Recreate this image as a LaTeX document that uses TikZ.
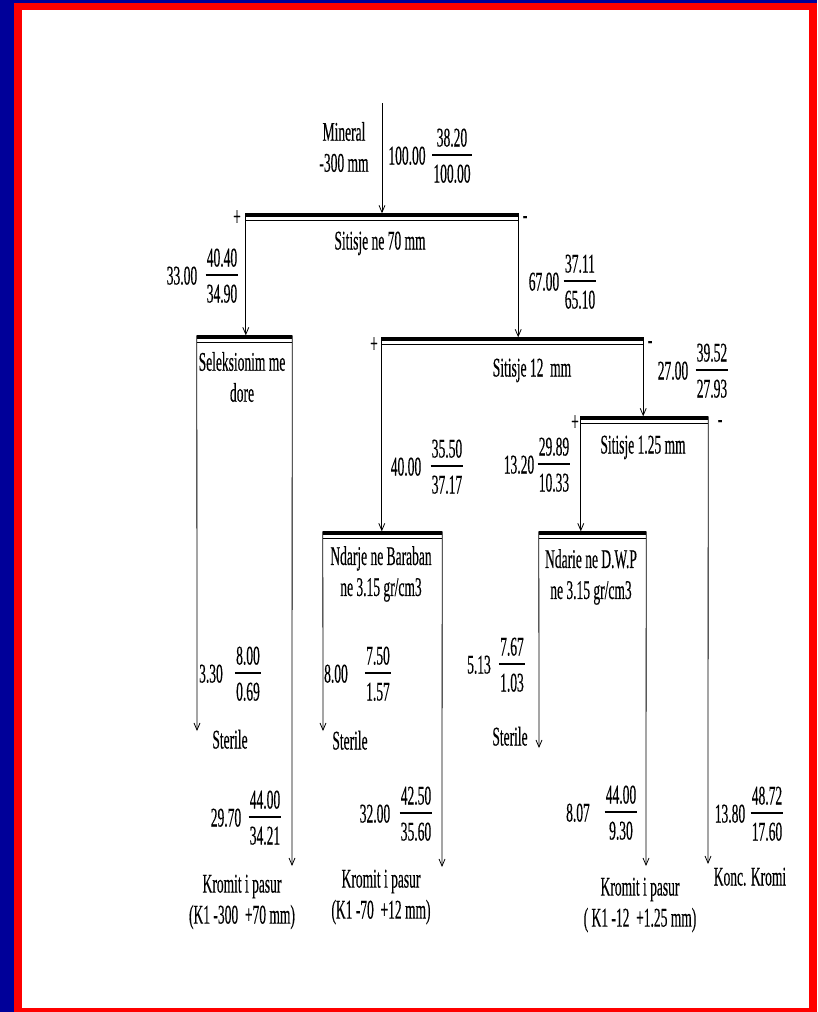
\documentclass[tikz,border=0pt]{standalone}
\usepackage{fontspec}
\setmainfont{Liberation Serif}[FakeStretch=0.5,FakeBold=0.3]
\usetikzlibrary{arrows.meta,calc}
\definecolor{frameblue}{RGB}{0,0,153}
\definecolor{framered}{RGB}{255,0,0}
\newcommand\procbars[1]{%
  \draw[thickbar] ([yshift=-1.6pt]#1.north west) -- ([yshift=-1.6pt]#1.north east);
  \draw[thinbar] ([yshift=0.5pt]#1.south west) -- ([yshift=0.5pt]#1.south east);}
\newcommand\fracval[7]{%
  \node[txt] (#1-a) at (#2,#4+3) {#5};
  \node[txt] (#1-n) at (#3,#4-15) {#6};
  \node[txt] (#1-d) at (#3,#4+21) {#7};
  \draw[fracbar] let \p1=(#1-n.west), \p2=(#1-d.west), \p3=(#1-n.east), \p4=(#1-d.east) in
    ({min(\x1,\x2)-1pt},#4) -- ({max(\x3,\x4)+1pt},#4);}
\begin{document}
\begin{tikzpicture}[x=1pt,y=-1pt,
  txt/.style={inner sep=0pt, font=\fontsize{27}{31}\selectfont, text height=18pt, text depth=5pt},
  mtxt/.style={inner sep=0pt, font=\fontsize{27}{31}\selectfont, align=center},
  wire/.style={line width=0.8pt},
  flow/.style={wire, -{Straight Barb[length=7pt,width=6pt]}},
  proc/.style={inner sep=0pt, minimum height=7pt},
  thickbar/.style={line width=3.2pt},
  thinbar/.style={line width=0.9pt},
  fracbar/.style={line width=1.2pt},
]
\useasboundingbox (0,0) rectangle (817,1012);
\fill[frameblue] (0,0) rectangle (817,1012);
\fill[framered] (14,3) rectangle (817,1012);
\fill[white] (22,10) rectangle (809,1008);

% process bars
\node[proc, minimum width=272pt] (p1) at (382,217) {};
\node[proc, minimum width=95pt]  (p2) at (244.5,339) {};
\node[proc, minimum width=261pt] (p3) at (512.5,341) {};
\node[proc, minimum width=119pt] (p4) at (382.5,535) {};
\node[proc, minimum width=127pt] (p5) at (644.5,420) {};
\node[proc, minimum width=107pt] (p6) at (592.5,535) {};
\procbars{p1}\procbars{p2}\procbars{p3}\procbars{p4}\procbars{p5}\procbars{p6}

% process labels
\node[txt] (l1) at (380,243) {Sitisje ne 70 mm};
\node[mtxt] (l2) at (242,377) {Seleksionim me\\dore};
\node[txt] (l3) at (532,370) {Sitisje 12\ \ mm};
\node[txt] (l5) at (643,447) {Sitisje 1.25 mm};
\node[mtxt] (l4) at (381,574) {Ndarje ne Baraban\\ne 3.15 gr/cm3};
\node[mtxt] (l6) at (591,577) {Ndarie ne D.W.P\\ne 3.15 gr/cm3};

% signs
\node[txt] (s1p) at (237,219) {+};
\node[txt] (s1m) at (525,217) {-};
\node[txt] (s3p) at (374,346) {+};
\node[txt] (s3m) at (650,342) {-};
\node[txt] (s5p) at (575,424) {+};
\node[txt] (s5m) at (720,421) {-};

% input
\coordinate (in) at (382,103);
\node[mtxt] (feed) at (344,147) {Mineral\\-300 mm};
\draw[flow] (in) -- (p1.north);

% internal connectors
\draw[flow] (p1.north west) -- (p1.north west |- p2.north);
\draw[flow] (p1.north east) -- (p1.north east |- p3.north);
\draw[flow] (p3.north west) -- (p3.north west |- p4.north);
\draw[flow] (p3.north east) -- (p3.north east |- p5.north);
\draw[flow] (p5.north west) -- (p5.north west |- p6.north);

% outputs
\coordinate (o1) at (197,731);
\coordinate (o2) at (292,866);
\coordinate (o3) at (323,731);
\coordinate (o4) at (442,867);
\coordinate (o5) at (539,748);
\coordinate (o6) at (646,866);
\coordinate (o7) at (708,864);
\draw[flow] (p2.north west) -- (o1);
\draw[flow] (p2.north east) -- (o2);
\draw[flow] (p4.north west) -- (o3);
\draw[flow] (p4.north east) -- (o4);
\draw[flow] (p6.north west) -- (o5);
\draw[flow] (p6.north east) -- (o6);
\draw[flow] (p5.north east) -- (o7);

\node[txt] (t1) at (230,742) {Sterile};
\node[txt] (t3) at (350,743) {Sterile};
\node[txt] (t5) at (510,739) {Sterile};
\node[mtxt] (t2) at (242,902) {Kromit i pasur\\(K1 -300\ \ +70 mm)};
\node[mtxt] (t4) at (381,897) {Kromit i pasur\\(K1 -70\ \ +12 mm)};
\node[mtxt] (t6) at (640,905) {Kromit i pasur\\( K1 -12\ \ +1.25 mm)};
\node[txt] (t7) at (750,879) {Konc. Kromi};

% values
\fracval{f0}{407}{452}{155}{100.00}{38.20}{100.00}
\fracval{f1}{182}{222}{275}{33.00}{40.40}{34.90}
\fracval{f2}{544}{580}{281}{67.00}{37.11}{65.10}
\fracval{f3}{673}{712}{370}{27.00}{39.52}{27.93}
\fracval{f4}{406}{447}{466}{40.00}{35.50}{37.17}
\fracval{f5}{519}{554}{464}{13.20}{29.89}{10.33}
\fracval{f6}{211}{248}{673}{3.30}{8.00}{0.69}
\fracval{f7}{336}{378}{673}{8.00}{7.50}{1.57}
\fracval{f8}{479}{512}{664}{5.13}{7.67}{1.03}
\fracval{f9}{226}{265}{817}{29.70}{44.00}{34.21}
\fracval{f10}{375}{416}{813}{32.00}{42.50}{35.60}
\fracval{f11}{578}{621}{812}{8.07}{44.00}{9.30}
\fracval{f12}{730}{767}{813}{13.80}{48.72}{17.60}
\end{tikzpicture}
\end{document}
